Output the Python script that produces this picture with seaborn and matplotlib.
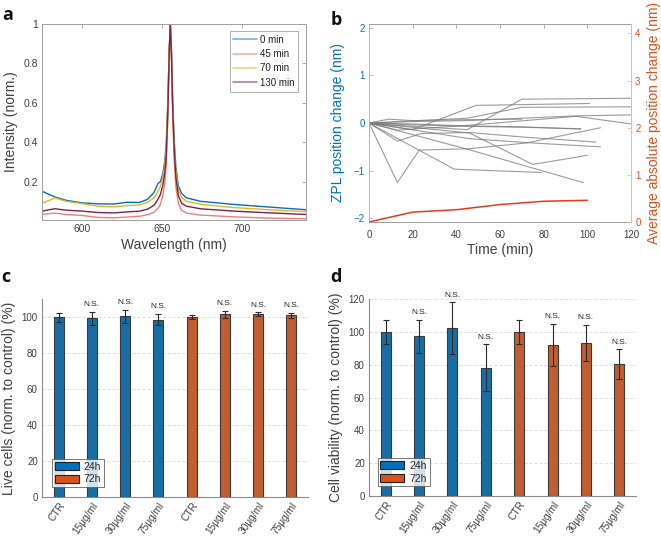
import numpy as np
import pandas as pd
import matplotlib
matplotlib.use("Agg")
import matplotlib.pyplot as plt
import seaborn as sns
from matplotlib.lines import Line2D
from matplotlib.patches import Patch

# ---------------- Panel a: spectra ----------------
wavelength = [575, 578, 583, 590, 600, 610, 620, 628, 636, 641, 645, 647.5, 649, 650.5,
              651.7, 652.7, 653.7, 654.5, 655.2, 655.9, 656.7, 657.7, 658.7, 660.2,
              662.2, 665.2, 674, 695, 715, 740]
spec_0min = [0.151, 0.140, 0.122, 0.105, 0.092, 0.087, 0.086, 0.095, 0.094, 0.110, 0.145, 0.190,
             0.200, 0.240, 0.300, 0.400, 0.620, 0.870, 1.000, 0.870, 0.600, 0.400, 0.270, 0.180,
             0.140, 0.118, 0.100, 0.084, 0.072, 0.057]
spec_45min = [0.033, 0.036, 0.040, 0.033, 0.028, 0.018, 0.016, 0.020, 0.024, 0.032, 0.045, 0.065,
              0.085, 0.130, 0.190, 0.290, 0.530, 0.840, 1.000, 0.840, 0.530, 0.300, 0.170, 0.090,
              0.055, 0.040, 0.030, 0.021, 0.015, 0.011]
spec_70min = [0.089, 0.100, 0.117, 0.100, 0.088, 0.075, 0.072, 0.078, 0.082, 0.095, 0.117, 0.150,
              0.175, 0.220, 0.280, 0.380, 0.600, 0.860, 1.000, 0.860, 0.580, 0.380, 0.250, 0.160,
              0.120, 0.100, 0.085, 0.068, 0.058, 0.047]
spec_130min = [0.050, 0.055, 0.062, 0.055, 0.050, 0.043, 0.041, 0.046, 0.050, 0.060, 0.080, 0.110,
               0.135, 0.180, 0.240, 0.340, 0.570, 0.850, 1.000, 0.850, 0.560, 0.350, 0.220, 0.130,
               0.090, 0.075, 0.062, 0.050, 0.042, 0.033]
spec_labels = ["0 min", "45 min", "70 min", "130 min"]

# ---------------- Panel b: ZPL traces ----------------
trace_t = [
    [0, 13, 23, 46, 72, 106],
    [0, 13, 24, 46, 72, 104],
    [0, 39, 79],
    [0, 46, 75, 100],
    [0, 45, 98],
    [0, 20, 49, 101],
    [0, 13, 45, 70, 120],
    [0, 45, 70, 120],
    [0, 20, 45, 70, 95, 120],
    [0, 13, 45, 95, 120],
    [0, 20, 45, 70, 97],
    [0, 20, 45, 70, 97],
    [0, 46, 75, 106],
    [0, 9, 20, 45, 70],
]
trace_v = [
    [0, -1.25, -0.57, -0.54, -0.42, -0.10],
    [0, -0.38, -0.22, -0.20, -0.30, -0.40],
    [0, -0.97, -1.04],
    [0, -0.21, -0.87, -0.68],
    [0, -0.55, -1.25],
    [0, -0.14, 0.37, 0.41],
    [0, -0.05, -0.14, 0.50, 0.52],
    [0, 0.10, 0.33, 0.34],
    [0, 0.03, 0.05, 0.10, 0.15, 0.17],
    [0, -0.15, -0.05, 0.14, -0.02],
    [0, -0.02, -0.06, -0.08, -0.13],
    [0, -0.04, -0.07, -0.09, -0.12],
    [0, -0.33, -0.42, -0.50],
    [0, 0.08, 0.05, 0.07, 0.08],
]
avg_t = [0, 20, 40, 60, 80, 100]
avg_abs_change = [0, 0.21, 0.26, 0.37, 0.44, 0.46]

# ---------------- Panels c & d: bars ----------------
bar_labels = ["CTR", "15\u03bcg/ml", "30\u03bcg/ml", "75\u03bcg/ml",
              "CTR", "15\u03bcg/ml", "30\u03bcg/ml", "75\u03bcg/ml"]
bar_groups = ["24h"] * 4 + ["72h"] * 4
live_cells = [100.0, 99.2, 100.3, 98.5, 100.0, 101.5, 101.5, 101.0]
live_err = [2.5, 3.8, 3.8, 3.2, 1.0, 2.0, 1.2, 1.3]
live_ns = [False, True, True, True, False, True, True, True]
viability = [100.0, 97.4, 102.4, 78.2, 100.0, 92.0, 93.2, 80.3]
viab_err = [7.5, 10.0, 15.6, 14.4, 7.3, 13.0, 11.2, 9.0]
viab_ns = [False, True, True, True, False, True, True, True]

BLUE = "#0072BD"
ORANGE = "#D95319"
TXT = "#404040"
SPINE = "#A0A0A0"

sns.set_theme(style="white")
plt.rcParams["font.family"] = ["Liberation Sans", "DejaVu Sans"]
plt.rcParams["axes.linewidth"] = 0.8

W, H = 661, 538
fig = plt.figure(figsize=(W / 100, H / 100), dpi=100)


def box(l, t, r, b):
    return [l / W, 1 - b / H, (r - l) / W, (b - t) / H]


# ---------------- Panel a ----------------
ax = fig.add_axes(box(42, 24, 306, 220))
line_cols = [BLUE, "#F07E74", "#EDB120", "#7A2348"]
leg_cols = ["#6FB4E3", "#F3B39C", "#F5D488", "#B07AA8"]
for vals, c, lab in zip([spec_0min, spec_45min, spec_70min, spec_130min], line_cols, spec_labels):
    sns.lineplot(x=wavelength, y=vals, color=c, lw=1.0, ax=ax, label=lab, legend=False)
ax.set_xlim(575, 740)
ax.set_ylim(0.005, 1.0)
ax.set_xticks([600, 650, 700])
ax.set_yticks([0.2, 0.4, 0.6, 0.8, 1.0])
ax.set_yticklabels(["0.2", "0.4", "0.6", "0.8", "1"])
ax.set_xlabel("Wavelength (nm)", fontsize=10, color=TXT, labelpad=3)
ax.set_ylabel("Intensity (norm.)", fontsize=10, color=TXT, labelpad=4)
ax.tick_params(direction="in", top=True, right=True, length=3, width=0.6,
               color=SPINE, labelcolor=TXT, labelsize=7.5, pad=3)
for s in ax.spines.values():
    s.set_color(SPINE)
    s.set_linewidth(0.7)
handles = [Line2D([0], [0], color=c, lw=1.2) for c in leg_cols]
lg = ax.legend(handles, spec_labels, loc="upper right", bbox_to_anchor=(0.97, 0.965),
               borderaxespad=0, fontsize=7, frameon=True, fancybox=False, handlelength=2.4,
               handletextpad=0.3, labelspacing=0.45, borderpad=0.4)
lg.get_frame().set_edgecolor("#999999")
lg.get_frame().set_linewidth(0.7)
for t in lg.get_texts():
    t.set_color("#202020")

# ---------------- Panel b ----------------
axb = fig.add_axes(box(369, 24, 631, 222))
rows = []
for i, (ts, vs) in enumerate(zip(trace_t, trace_v)):
    for t_, v_ in zip(ts, vs):
        rows.append({"trace": i, "t": t_, "v": v_})
df_tr = pd.DataFrame(rows)
sns.lineplot(data=df_tr, x="t", y="v", units="trace", estimator=None, color="#7A7A7A",
             alpha=0.75, lw=0.8, ax=axb, legend=False)
axb.set_xlim(0, 120)
axb.set_ylim(-2.08, 2.08)
axb.set_xticks(range(0, 121, 20))
axb.set_yticks([-2, -1, 0, 1, 2])
axb.set_xlabel("Time (min)", fontsize=10, color=TXT, labelpad=2)
axb.set_ylabel("ZPL position change (nm)", fontsize=10, color=BLUE, labelpad=6)
axb.tick_params(axis="x", direction="in", top=True, length=3, width=0.6, color=SPINE,
                labelcolor=TXT, labelsize=7, pad=6)
axb.tick_params(axis="y", direction="in", right=False, length=3, width=0.6, color="#8CC0E6",
                labelcolor=BLUE, labelsize=7, pad=3)
axb.spines["left"].set_color("#8CC0E6")
axb.spines["top"].set_color(SPINE)
axb.spines["bottom"].set_color(SPINE)
axb.spines["right"].set_visible(False)
for s in axb.spines.values():
    s.set_linewidth(0.7)

ax2 = axb.twinx()
sns.lineplot(x=avg_t, y=avg_abs_change, color="#E63A1E", lw=1.1, ax=ax2, legend=False)
ax2.set_ylim(0, 4.2)
ax2.set_yticks([0, 1, 2, 3, 4])
ax2.set_ylabel("Average absolute position change (nm)", fontsize=10, color=ORANGE, labelpad=5)
ax2.tick_params(axis="y", direction="in", length=3, width=0.6, color="#F2B49A",
                labelcolor=ORANGE, labelsize=7, pad=3)
for k in ["left", "top", "bottom"]:
    ax2.spines[k].set_visible(False)
ax2.spines["right"].set_color("#F2B49A")
ax2.spines["right"].set_linewidth(0.7)


# ---------------- Panels c, d ----------------
def bar_panel(rect, vals, errs, ns, ylim, yticks, ylabel, leg_off):
    axc = fig.add_axes(rect)
    df = pd.DataFrame({"pos": list(range(len(vals))), "val": vals, "grp": bar_groups})
    sns.barplot(data=df, x="pos", y="val", hue="grp", palette={"24h": BLUE, "72h": ORANGE},
                dodge=False, width=0.3, edgecolor="#3A3A3A", linewidth=0.8, errorbar=None,
                ax=axc, legend=False, zorder=3)
    axc.errorbar(df["pos"], vals, yerr=errs, fmt="none", ecolor="#2A2A2A", elinewidth=0.8,
                 capsize=2.5, capthick=0.8, zorder=4)
    for p, v, e, n in zip(df["pos"], vals, errs, ns):
        if n:
            axc.annotate("N.S.", (p, v + e), xytext=(0, 2.5), textcoords="offset points",
                         ha="center", va="bottom", fontsize=6, color="#202020",
                         annotation_clip=False)
    axc.set_xlim(-0.5, 7.5)
    axc.set_ylim(*ylim)
    axc.set_yticks(yticks)
    axc.set_xticks(range(8))
    axc.set_xticklabels(bar_labels, rotation=55, ha="right", rotation_mode="anchor")
    axc.set_xlabel("")
    axc.set_ylabel(ylabel, fontsize=10, color=TXT, labelpad=4)
    axc.yaxis.grid(True, color="#DADADA", lw=0.6, ls=(0, (4, 2)), zorder=0)
    axc.set_axisbelow(True)
    axc.tick_params(direction="in", length=2.5, width=0.6, color="#606060",
                    labelcolor=TXT, labelsize=7, pad=3)
    axc.tick_params(axis="x", labelsize=7.3, pad=2.5)
    for k in ["top", "right"]:
        axc.spines[k].set_visible(False)
    for k in ["left", "bottom"]:
        axc.spines[k].set_color("#8A8A8A")
        axc.spines[k].set_linewidth(0.8)
    hs = [Patch(facecolor=BLUE, edgecolor="#222222", lw=0.8),
          Patch(facecolor=ORANGE, edgecolor="#222222", lw=0.8)]
    lg = axc.legend(hs, ["24h", "72h"], loc="lower left", bbox_to_anchor=leg_off,
                    borderaxespad=0, fontsize=7.5, frameon=True, fancybox=False,
                    handlelength=2.3, handleheight=0.8, handletextpad=0.5,
                    labelspacing=0.25, borderpad=0.25)
    lg.get_frame().set_edgecolor("#555555")
    lg.get_frame().set_linewidth(0.7)
    lg.set_zorder(5)
    return axc


bar_panel(box(42, 299, 308, 497), live_cells, live_err, live_ns, (0, 110),
          [0, 20, 40, 60, 80, 100], "Live cells (norm. to control) (%)", (0.038, 0.05))
bar_panel(box(369, 299, 636, 496), viability, viab_err, viab_ns, (0, 120),
          [0, 20, 40, 60, 80, 100, 120], "Cell viability (norm. to control) (%)", (0.033, 0.05))

# ---------------- Panel letters ----------------
for s, x, y in [("a", 2, 20), ("b", 331, 25), ("c", 1, 282), ("d", 330, 282)]:
    fig.text(x / W, 1 - y / H, s, fontsize=13, fontweight="bold", family="Open Sans",
             ha="left", va="baseline", color="#111111")

fig.savefig("out.png", dpi=100)
